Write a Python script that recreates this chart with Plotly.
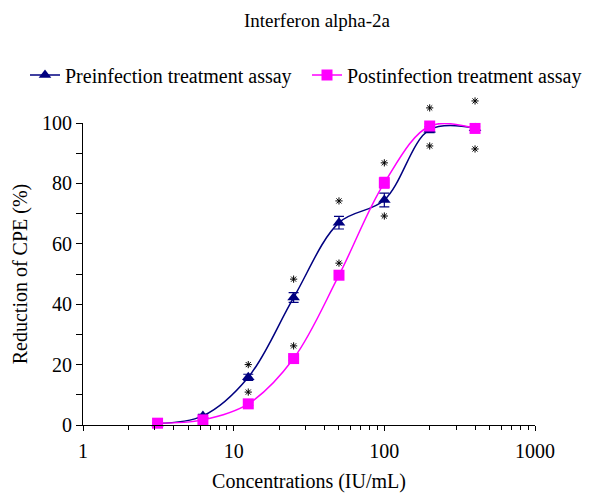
import plotly.graph_objects as go

conc = [3.125, 6.25, 12.5, 25, 50, 100, 200, 400]
pre = [0.5, 3.0, 15.8, 42.2, 67.0, 74.5, 97.8, 98.3]
pre_err = [0.3, 0.5, 1.0, 1.6, 2.1, 2.3, 1.0, 0.5]
post = [0.6, 1.7, 7.0, 22.0, 49.6, 80.2, 99.0, 98.2]
post_err = [0.2, 0.3, 0.5, 0.6, 0.7, 1.8, 0.7, 0.5]

star_x = [12.5, 12.5, 25, 25, 50, 50, 100, 100, 200, 200, 400, 400]
star_y = [20.0, 10.9, 48.3, 26.2, 74.2, 53.6, 86.8, 69.2, 105.0, 92.4, 107.3, 91.4]

x_ticks = [1, 10, 100, 1000]
x_ticklabels = ["1", "10", "100", "1000"]
x_minor = [m * d for d in (1, 10, 100) for m in range(2, 10)]

FONT = "Liberation Serif"
NAVY = "#000080"
MAG = "#FF00FF"

W, H = 592, 494
L, R, T, B = 83, 57, 93, 69
PLOT_H = H - T - B           # 332
PX_PER_UNIT = 302 / 100      # 0 -> y=425, 100 -> y=123
MAIN_TOP = 100 * PX_PER_UNIT / PLOT_H
Y2_TOP = PLOT_H / PX_PER_UNIT

fig = go.Figure()
fig.add_trace(go.Scatter(
    x=star_x, y=star_y, mode="markers", showlegend=False, yaxis="y2",
    marker=dict(symbol="asterisk-open", size=6, color="black",
                line=dict(color="black", width=1)),
    cliponaxis=False, hoverinfo="skip",
))
fig.add_trace(go.Scatter(
    x=conc, y=pre, name="Preinfection treatment assay",
    mode="lines+markers", legend="legend",
    line=dict(color=NAVY, width=1.5, shape="spline", smoothing=1.0),
    marker=dict(symbol="triangle-up", size=11, color=NAVY),
    error_y=dict(type="data", array=pre_err, color=NAVY, thickness=1.2, width=5),
    cliponaxis=False,
))
fig.add_trace(go.Scatter(
    x=conc, y=post, name="Postinfection treatment assay",
    mode="lines+markers", legend="legend2",
    line=dict(color=MAG, width=1.5, shape="spline", smoothing=1.0),
    marker=dict(symbol="square", size=11, color=MAG),
    error_y=dict(type="data", array=post_err, color=MAG, thickness=1.2, width=5),
    cliponaxis=False,
))

leg_y = 1 + (T - 75) / PLOT_H
leg_common = dict(orientation="h", xanchor="left", y=leg_y, yanchor="middle",
                  font=dict(family=FONT, size=20, color="black"), itemwidth=30,
                  bgcolor="rgba(0,0,0,0)")

fig.update_layout(
    width=W, height=H,
    margin=dict(l=L, r=R, t=T, b=B, autoexpand=False),
    paper_bgcolor="white", plot_bgcolor="rgba(0,0,0,0)",
    font=dict(family=FONT, size=20, color="black"),
    title=dict(text="Interferon alpha-2a", x=317 / W, xanchor="center", xref="container",
               y=1 - 20 / H, yanchor="middle", yref="container",
               font=dict(family=FONT, size=19, color="black")),
    legend=dict(x=(25 - L) / (W - L - R), **leg_common),
    legend2=dict(x=(307 - L) / (W - L - R), **leg_common),
    showlegend=True,
    yaxis2=dict(domain=[0, 1], range=[0, Y2_TOP], anchor="x", visible=False,
                showgrid=False, zeroline=False, automargin=False),
    xaxis=dict(
        type="log", range=[0, 3], automargin=False,
        tickvals=x_ticks, ticktext=x_ticklabels,
        ticks="outside", ticklen=5, tickwidth=1, tickcolor="black",
        showline=True, linecolor="black", linewidth=1.2,
        showgrid=False, zeroline=False, ticklabelstandoff=3,
        minor=dict(tickvals=x_minor, ticks="outside", ticklen=4, tickwidth=1,
                   tickcolor="black", showgrid=False),
        tickfont=dict(family=FONT, size=20),
        title=dict(text="Concentrations (IU/mL)", font=dict(family=FONT, size=20), standoff=12),
    ),
    yaxis=dict(
        domain=[0, MAIN_TOP], automargin=False,
        range=[0, 100], dtick=20, tick0=0,
        ticks="outside", ticklen=6, tickwidth=1, tickcolor="black",
        showline=True, linecolor="black", linewidth=1.2,
        showgrid=False, zeroline=False,
        minor=dict(dtick=10, ticks="outside", ticklen=6, tickwidth=1,
                   tickcolor="black", showgrid=False),
        tickfont=dict(family=FONT, size=20),
        title=dict(text="Reduction of CPE (%)", font=dict(family=FONT, size=20), standoff=8),
    ),
)

fig.write_html("out.html")
